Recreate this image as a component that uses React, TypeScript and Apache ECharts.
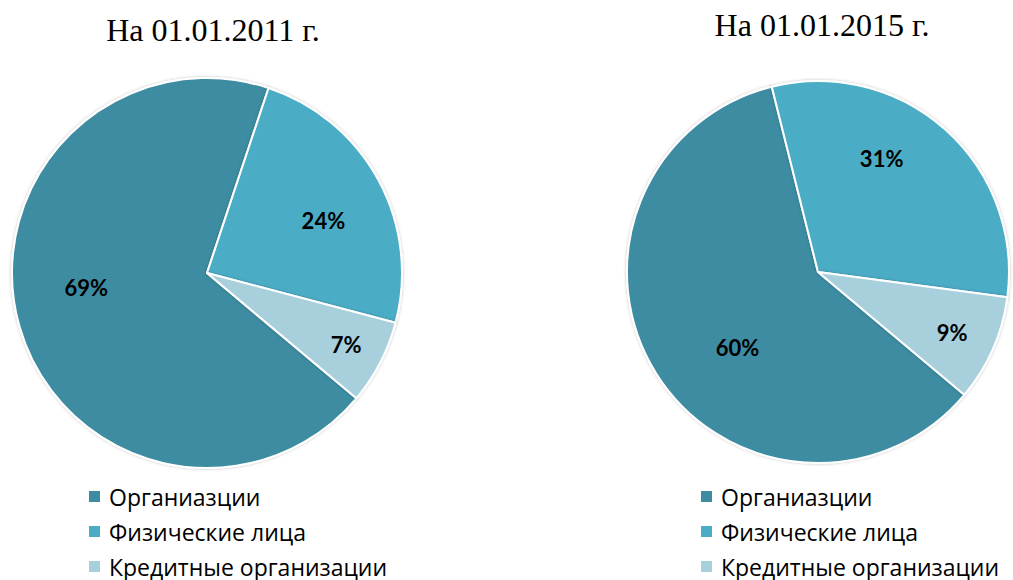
import React, { useEffect, useRef } from "react";
import * as echarts from "echarts";

const categories = ["Органиазции", "Физические лица", "Кредитные организации"];
const values2011 = [69, 24, 7];
const values2015 = [60, 31, 9];
const titles = ["На 01.01.2011 г.", "На 01.01.2015 г."];
const colors = ["#3D8CA2", "#4BACC6", "#A8CFDC"];

// small label nudges away from the slice middle, as in the original
const offsets2011 = [[-24, -13], [28, -5], [50, 25]];
const offsets2015 = [[3, 23], [-2, -40], [44, 21]];

export default function App() {
  const ref = useRef<HTMLDivElement>(null);
  useEffect(() => {
    if (!ref.current) return;
    const chart = echarts.init(ref.current, undefined, { renderer: "svg" });
    const makeSeries = (vals: number[], offs: number[][], center: [number, number], radius: number) => ({
      type: "pie",
      center,
      radius,
      startAngle: -40,
      clockwise: true,
      avoidLabelOverlap: false,
      itemStyle: {
        borderColor: "#ffffff",
        borderWidth: 2,
        shadowBlur: 3,
        shadowColor: "rgba(0,0,0,0.25)",
      },
      emphasis: { disabled: true },
      label: {
        show: true,
        position: "inside",
        formatter: "{c}%",
        fontFamily: "Lato",
        fontWeight: "bold",
        fontSize: 22,
        color: "#000000",
      },
      labelLine: { show: false },
      data: categories.map((name, i) => ({
        name,
        value: vals[i],
        itemStyle: { color: colors[i] },
        label: { offset: offs[i] },
      })),
    });
    const makeLegend = (left: number) => ({
      orient: "vertical",
      left,
      top: 485,
      padding: 0,
      itemWidth: 13,
      itemHeight: 13,
      itemGap: 12,
      icon: "rect",
      selectedMode: false,
      data: categories,
      textStyle: {
        fontFamily: "Open Sans",
        fontSize: 23,
        lineHeight: 23,
        color: "#000000",
        padding: [0, 0, 0, 3],
      },
    });
    chart.setOption({
      animation: false,
      color: colors,
      graphic: [
        {
          type: "text",
          x: 213,
          y: 14,
          style: {
            text: titles[0],
            fontFamily: "Liberation Serif",
            fontSize: 32,
            fill: "#000000",
            textAlign: "center",
          },
        },
        {
          type: "text",
          x: 822,
          y: 9,
          style: {
            text: titles[1],
            fontFamily: "Liberation Serif",
            fontSize: 32,
            fill: "#000000",
            textAlign: "center",
          },
        },
      ],
      legend: [makeLegend(87), makeLegend(699)],
      series: [
        makeSeries(values2011, offsets2011, [207, 273], 195),
        makeSeries(values2015, offsets2015, [818, 272], 191),
      ],
    });
    return () => chart.dispose();
  }, []);
  return (
    <div
      ref={ref}
      style={{ position: "fixed", left: 0, top: 0, width: 1013, height: 580, background: "#ffffff" }}
    />
  );
}
